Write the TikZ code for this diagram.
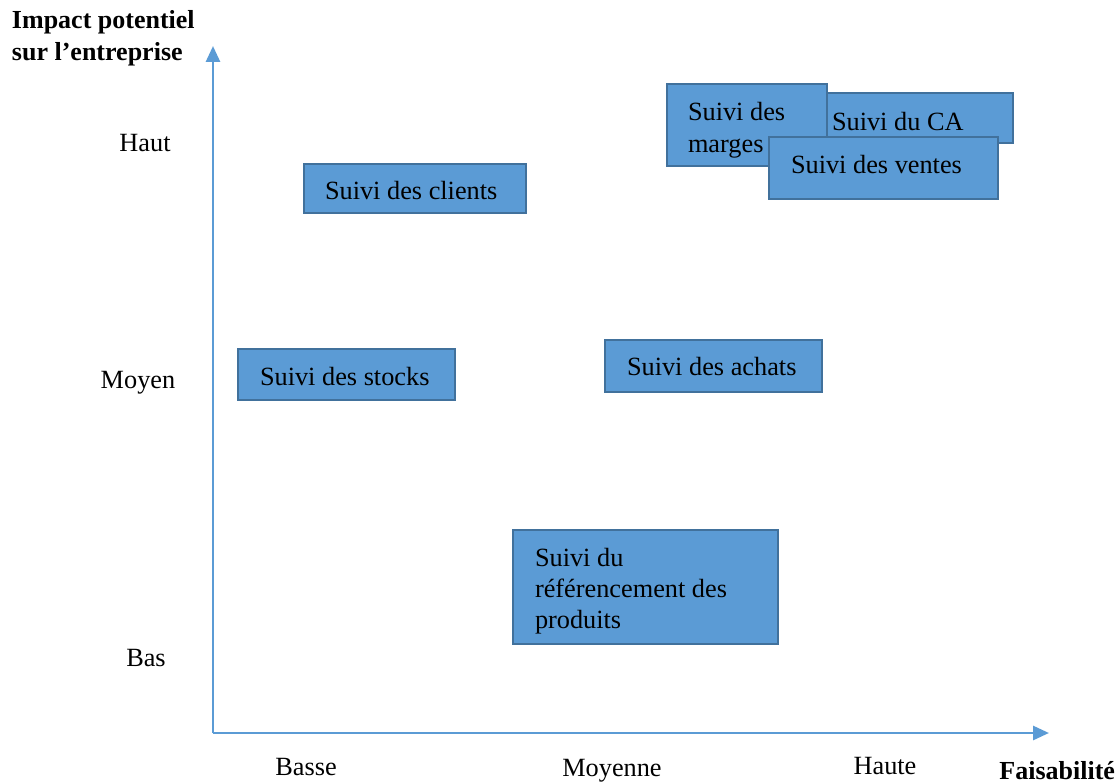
\documentclass[tikz,border=0pt]{standalone}
\usepackage{fontspec}
\setmainfont{Liberation Serif}
\usetikzlibrary{arrows.meta}
\definecolor{boxfill}{HTML}{5B9BD5}
\definecolor{boxline}{HTML}{41719C}
\definecolor{axisblue}{HTML}{5B9BD5}
\begin{document}
\begin{tikzpicture}[x=1pt,y=-1pt,
  every node/.style={font=\fontsize{26.3}{31}\selectfont, inner sep=0pt, outer sep=0pt},
  box/.style={draw=boxline, fill=boxfill, line width=2pt, anchor=north west},
  txt/.style={anchor=base west, align=left},
  axislabel/.style={anchor=base},
  heading/.style={anchor=base west, font=\fontsize{26}{32}\selectfont\bfseries, align=left},
  axis/.style={draw=axisblue, line width=2.8pt, -{Triangle[length=16pt,width=14pt]}}]
\useasboundingbox (0,0) rectangle (1117,784);

% axes
\coordinate (origin) at (213,733);
\coordinate (ytip) at (213,46);
\coordinate (xtip) at (1049,733);
\draw[axis] (origin) -- (ytip);
\draw[axis] (origin) -- (xtip);

% axis headings
\node[heading] (yhead) at (12,29) {Impact potentiel};
\node[heading] (yhead2) at (12,61) {sur l’entreprise};
\node[heading, anchor=base east] (xhead) at (1115,779) {Faisabilité};

% level labels
\node[axislabel] (haut) at (145,151) {Haut};
\node[axislabel] (moyen) at (138,388) {Moyen};
\node[axislabel] (bas) at (146,666) {Bas};
\node[axislabel] (basse) at (306,775) {Basse};
\node[axislabel] (moyenne) at (612,776) {Moyenne};
\node[axislabel] (haute) at (885,774) {Haute};

% indicator boxes
\node[box, minimum width=222pt, minimum height=49pt] (clients) at (304,164) {};
\node[txt] at (325,199) {Suivi des clients};

\node[box, minimum width=217pt, minimum height=51pt] (stocks) at (238,349) {};
\node[txt] at (260,385) {Suivi des stocks};

\node[box, minimum width=217pt, minimum height=52pt] (achats) at (605,340) {};
\node[txt] at (627,375) {Suivi des achats};

\node[box, minimum width=265pt, minimum height=114pt] (reference) at (513,530) {};
\node[txt] at (535,566) {Suivi du};
\node[txt] at (535,597) {référencement des};
\node[txt] at (535,628) {produits};

% overlapping group, back to front
\node[box, minimum width=213pt, minimum height=50pt] (ca) at (800,93) {};
\node[txt] at (832,130) {Suivi du CA};

\node[box, minimum width=160pt, minimum height=82pt] (marges) at (667,84) {};
\node[txt] at (688,121) {Suivi des};
\node[txt] at (688,152) {marges};

\node[box, minimum width=229pt, minimum height=62pt] (ventes) at (769,137) {};
\node[txt] at (791,173) {Suivi des ventes};
\end{tikzpicture}
\end{document}
